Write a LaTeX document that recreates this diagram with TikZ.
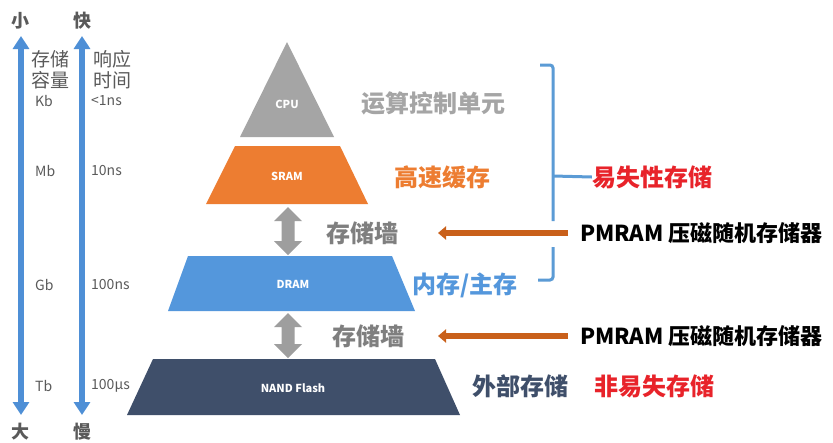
\documentclass[tikz,border=0pt]{standalone}
\usepackage{fontspec}
\setmainfont{Noto Sans CJK SC}
\usetikzlibrary{arrows.meta}
\definecolor{cpugray}{HTML}{A5A5A5}
\definecolor{sramorange}{HTML}{ED7D31}
\definecolor{dramblue}{HTML}{5497DC}
\definecolor{nandslate}{HTML}{3F4F6A}
\definecolor{axisblue}{HTML}{4E8FD6}
\definecolor{txtgray}{HTML}{5A5A5A}
\definecolor{wallgray}{HTML}{9E9E9E}
\definecolor{walltxt}{HTML}{7F7F7F}
\definecolor{arrorange}{HTML}{C9601A}
\definecolor{redtxt}{HTML}{E8232A}
\definecolor{brblue}{HTML}{5B9BD5}
\newcommand\wallarrow[3]{%
  \fill[wallgray] (#1,#2) -- (#1+14,#2+14) -- (#1+6.5,#2+14) -- (#1+6.5,#3-14)
    -- (#1+14,#3-14) -- (#1,#3) -- (#1-14,#3-14) -- (#1-6.5,#3-14)
    -- (#1-6.5,#2+14) -- (#1-14,#2+14) -- cycle;}
\tikzset{
  axis/.style={axisblue, line width=6pt, {Triangle[width=16pt,length=13pt]}-{Triangle[width=16pt,length=13pt]}},
  endlbl/.style={font=\bfseries\fontsize{18}{18}\selectfont, text=txtgray, inner sep=0pt},
  headlbl/.style={font=\fontsize{19}{21}\selectfont, text=txtgray, inner sep=0pt, align=left, anchor=west},
  vallbl/.style={font=\fontsize{14}{14}\selectfont, text=txtgray, inner sep=0pt, anchor=west},
  inlbl/.style={font=\bfseries\fontsize{11}{11}\selectfont, text=white, inner sep=0pt},
  biglbl/.style={font=\bfseries\fontsize{24}{24}\selectfont, inner sep=0pt},
  pmlbl/.style={font=\bfseries\fontsize{22}{22}\selectfont, text=black, inner sep=0pt, anchor=west},
  pmarrow/.style={arrorange, line width=6pt, -{Triangle[width=13pt,length=8pt]}},
  bracket/.style={brblue, line width=3pt, rounded corners=3pt}
}
\begin{document}
\begin{tikzpicture}[x=1pt,y=-1pt]
\useasboundingbox (0,0) rectangle (833,442);
\fill[white] (0,0) rectangle (833,442);
% left axes
\node[endlbl] (small) at (21,21) {小};
\node[endlbl] (big) at (21,432) {大};
\node[endlbl] (fast) at (82,21) {快};
\node[endlbl] (slow) at (82,432) {慢};
\coordinate (a1t) at (21,36);
\coordinate (a1b) at (21,415);
\coordinate (a2t) at (82,36);
\coordinate (a2b) at (82,415);
\draw[axis] (a1t) -- (a1b);
\draw[axis] (a2t) -- (a2b);
\node[headlbl] (cap) at (31,70) {存储\\容量};
\node[headlbl] (resp) at (93,70) {响应\\时间};
\node[vallbl] (kb) at (35,101) {Kb};
\node[vallbl] (mb) at (35,171) {Mb};
\node[vallbl] (gb) at (35,285) {Gb};
\node[vallbl] (tb) at (35,386) {Tb};
\node[vallbl] (t1) at (91,101) {<1ns};
\node[vallbl] (t2) at (91,171) {10ns};
\node[vallbl] (t3) at (91,285) {100ns};
\node[vallbl] (t4) at (91,386) {100µs};
% pyramid
\fill[cpugray] (287,42) -- (334,137) -- (240,137) -- cycle;
\fill[sramorange] (235,146) -- (340,146) -- (368,204) -- (206,204) -- cycle;
\fill[dramblue] (188,256) -- (392,256) -- (415,311) -- (168,311) -- cycle;
\fill[nandslate] (153,359) -- (435,359) -- (460,415) -- (127,415) -- cycle;
\node[inlbl] (cpu) at (287,104) {CPU};
\node[inlbl] (sram) at (287,176) {SRAM};
\node[inlbl] (dram) at (293,284) {DRAM};
\node[inlbl] (nand) at (293,388) {NAND Flash};
\wallarrow{288}{207}{255}
\wallarrow{288}{313}{358}
% side labels
\node[biglbl, text=cpugray] (alu) at (433,103) {运算控制单元};
\node[biglbl, text=sramorange] (cache) at (442,177) {高速缓存};
\node[biglbl, text=walltxt] (wall1) at (362,233) {存储墙};
\node[biglbl, text=walltxt] (wall2) at (368,336) {存储墙};
\node[biglbl, text=dramblue] (mem) at (465,285) {内存/主存};
\node[biglbl, text=nandslate] (ext) at (520,386) {外部存储};
\node[biglbl, text=redtxt] (nonvol) at (654,386) {非易失存储};
\node[biglbl, text=redtxt] (vol) at (652,177) {易失性存储};
% bracket
\draw[bracket] (540,65) -- (553,65) -- (553,221);
\draw[bracket] (553,247) -- (553,280) -- (538,280);
\draw[bracket] (553,176) -- (vol.west);
% PMRAM
\node[pmlbl] (pm1) at (580,233) {PMRAM 压磁随机存储器};
\node[pmlbl] (pm2) at (580,336) {PMRAM 压磁随机存储器};
\coordinate (tip1) at (438,233);
\coordinate (tip2) at (438,336);
\draw[pmarrow] ([xshift=-12pt]pm1.west) -- (tip1);
\draw[pmarrow] ([xshift=-12pt]pm2.west) -- (tip2);
\end{tikzpicture}
\end{document}
